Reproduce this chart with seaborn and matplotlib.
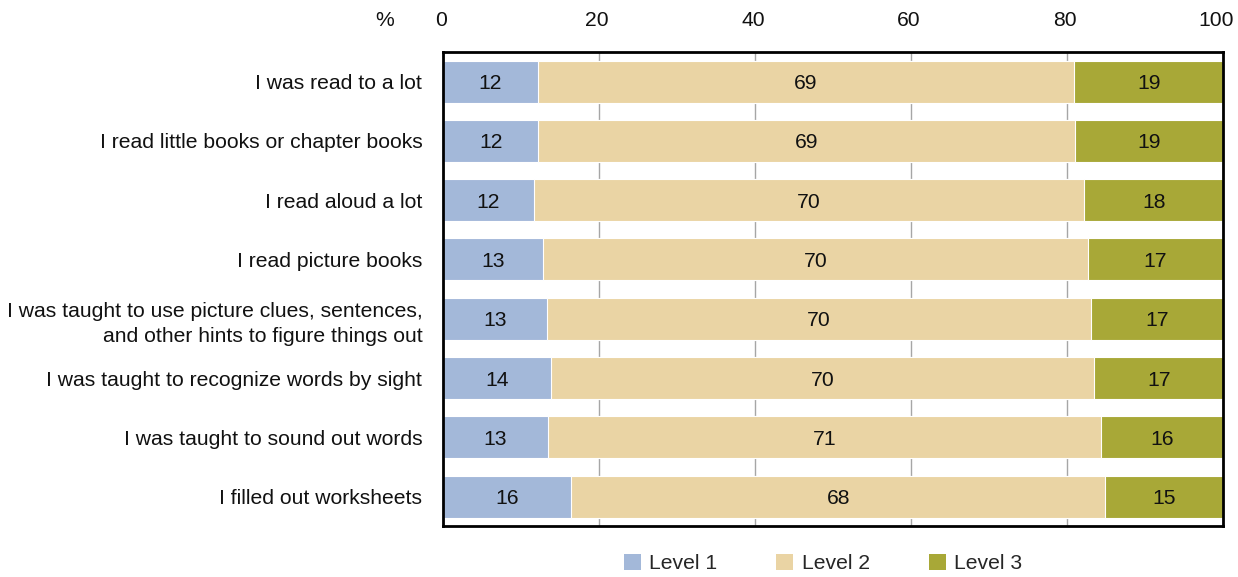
import numpy as np
import pandas as pd
import matplotlib
matplotlib.use("Agg")
import matplotlib.pyplot as plt
import matplotlib.transforms as mtransforms
import seaborn as sns
from matplotlib.patches import Patch

categories = [
    "I was read to a lot",
    "I read little books or chapter books",
    "I read aloud a lot",
    "I read picture books",
    "I was taught to use picture clues, sentences,\nand other hints to figure things out",
    "I was taught to recognize words by sight",
    "I was taught to sound out words",
    "I filled out worksheets",
]
level1 = [12.1, 12.2, 11.6, 12.8, 13.3, 13.8, 13.4, 16.4]
level2 = [68.8, 68.8, 70.6, 69.9, 69.7, 69.7, 70.9, 68.5]
level3 = [19.1, 19.0, 17.8, 17.3, 17.0, 16.5, 15.7, 15.1]
labels1 = [12, 12, 12, 13, 13, 14, 13, 16]
labels2 = [69, 69, 70, 70, 70, 70, 71, 68]
labels3 = [19, 19, 18, 17, 17, 17, 16, 15]
series = ["Level 1", "Level 2", "Level 3"]
colors = ["#A3B8D9", "#EAD4A4", "#A8A837"]
xticks = [0, 20, 40, 60, 80, 100]

sns.set_theme(style="white")
plt.rcParams["font.family"] = ["Liberation Sans", "DejaVu Sans"]

FS = 15.2

df = pd.DataFrame({"cat": categories, "l1": level1, "l2": level2, "l3": level3})
df["c1"] = df["l1"]
df["c2"] = df["l1"] + df["l2"]
df["c3"] = df["c2"] + df["l3"]

fig = plt.figure(figsize=(12.38, 5.77), dpi=100)
ax = fig.add_axes([0.358, 0.088, 0.630, 0.822])

for col, color, name in zip(["c3", "c2", "c1"], colors[::-1], series[::-1]):
    sns.barplot(data=df, x=col, y="cat", orient="h", color=color, ax=ax,
                width=0.71, edgecolor="white", linewidth=0.8, label=name,
                saturation=1, zorder=2)

for i in range(len(categories)):
    mids = [df["c1"][i] / 2, df["c1"][i] + df["l2"][i] / 2, df["c2"][i] + df["l3"][i] / 2]
    for m, lab in zip(mids, [labels1[i], labels2[i], labels3[i]]):
        ax.text(m, i, str(lab), ha="center", va="center_baseline", fontsize=FS,
                color="#111111", zorder=3)

ax.set_xlim(0, 100)
ax.set_ylim(7.5, -0.5)
ax.set_xticks(xticks)
ax.xaxis.tick_top()
ax.tick_params(axis="x", length=0, labelsize=FS, pad=16, colors="#111111")
ax.tick_params(axis="y", length=0, labelsize=FS, pad=15, colors="#111111")
for lab in ax.get_yticklabels():
    lab.set_multialignment("right")
    lab.set_linespacing(1.45)
# nudge x tick labels slightly left (as in the reference), last one a bit more
xlabs = ax.get_xticklabels()
for j, lab in enumerate(xlabs):
    dx = -7 if j == len(xlabs) - 1 else -2
    lab.set_transform(lab.get_transform() + mtransforms.ScaledTranslation(dx / 100, 0, fig.dpi_scale_trans))
ax.set_xlabel("")
ax.set_ylabel("")
ax.grid(axis="x", color="#A6A6A6", linewidth=1, zorder=0)
ax.grid(axis="y", visible=False)
ax.set_axisbelow(True)
for s in ax.spines.values():
    s.set_visible(True)
    s.set_color("black")
    s.set_linewidth(2)

fig.text(0.311, 0.965, "%", fontsize=FS, ha="center", va="center", color="#111111")

leg_handles = [Patch(facecolor=c, edgecolor="none") for c in colors]
ax.legend(leg_handles, series, loc="center", bbox_to_anchor=(0.487, -0.078), ncol=3,
          frameon=False, fontsize=FS, handlelength=0.8, handleheight=0.8,
          handletextpad=0.4, columnspacing=2.8)

fig.savefig("out.png", dpi=100)
